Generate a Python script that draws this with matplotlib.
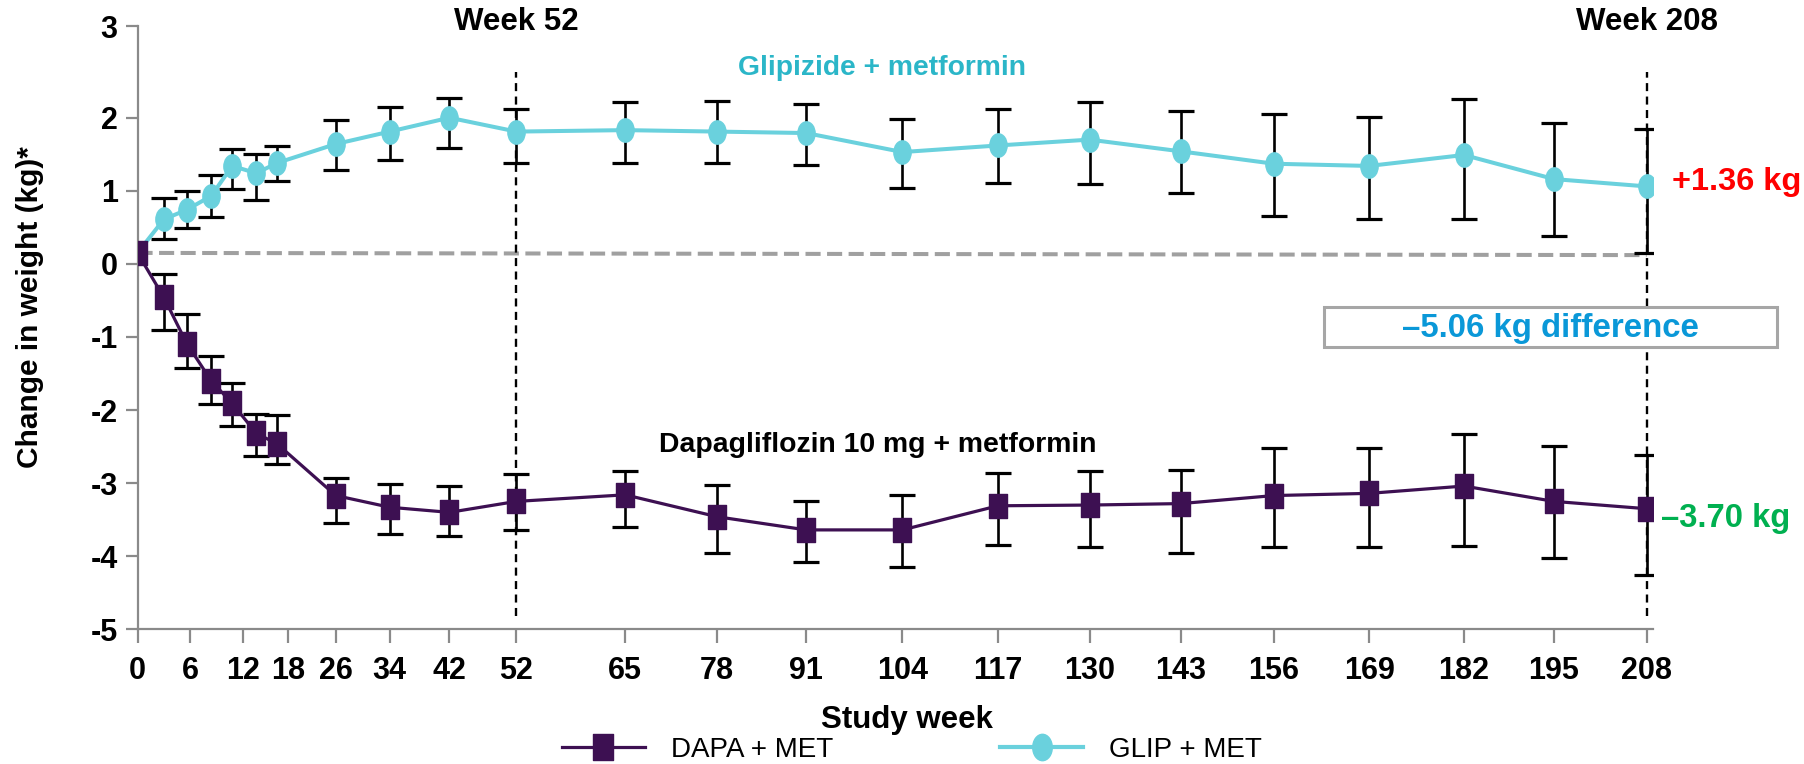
import numpy as np
import matplotlib
matplotlib.use("Agg")
import matplotlib.pyplot as plt
from matplotlib.path import Path
from matplotlib.patches import Rectangle
from matplotlib.lines import Line2D
from matplotlib.transforms import blended_transform_factory

plt.rcParams['font.family'] = ['Liberation Sans', 'DejaVu Sans']
plt.rcParams['axes.unicode_minus'] = False

# ---------------- data ----------------
weeks = [0, 3, 5.6, 8.4, 10.8, 13.8, 16.5, 26, 34, 42, 52, 65, 78, 91, 104,
         117, 130, 143, 156, 169, 182, 195, 208]

glip_mean = [0.15, 0.61, 0.74, 0.93, 1.34, 1.24, 1.38, 1.64, 1.81, 2.00, 1.81, 1.83,
             1.81, 1.79, 1.53, 1.62, 1.70, 1.54, 1.37, 1.34, 1.49, 1.16, 1.06]
glip_hi = [np.nan, 0.90, 1.00, 1.22, 1.57, 1.50, 1.61, 1.97, 2.12, 2.21, 2.10, 2.17,
           2.18, 2.15, 1.98, 2.10, 2.17, 2.07, 2.04, 2.01, 2.20, 1.93, 1.85]
glip_lo = [np.nan, 0.34, 0.49, 0.64, 1.03, 0.87, 1.13, 1.28, 1.42, 1.59, 1.38, 1.38,
           1.38, 1.35, 1.04, 1.11, 1.09, 0.97, 0.65, 0.62, 0.61, 0.38, 0.15]

dapa_mean = [0.15, -0.46, -1.09, -1.60, -1.91, -2.32, -2.46, -3.17, -3.33, -3.40, -3.25,
             -3.16, -3.46, -3.64, -3.64, -3.31, -3.30, -3.28, -3.17, -3.14, -3.04, -3.25, -3.35]
dapa_hi = [np.nan, -0.14, -0.68, -1.26, -1.63, -2.05, -2.07, -2.93, -3.01, -3.04, -2.87,
           -2.83, -3.03, -3.24, -3.16, -2.86, -2.83, -2.82, -2.52, -2.52, -2.33, -2.49, -2.62]
dapa_lo = [np.nan, -0.90, -1.43, -1.92, -2.22, -2.63, -2.74, -3.54, -3.70, -3.73, -3.64,
           -3.60, -3.96, -4.08, -4.15, -3.85, -3.87, -3.95, -3.87, -3.87, -3.86, -4.03, -4.26]

baseline_weeks = [0, 208]
baseline_vals = [0.15, 0.12]

x_ticks = [0, 6, 12, 18, 26, 34, 42, 52, 65, 78, 91, 104, 117, 130, 143, 156, 169, 182, 195, 208]
y_ticks = [-5, -4, -3, -2, -1, 0, 1, 2, 3]
marker_weeks = [52, 208]
marker_labels = ["Week 52", "Week 208"]

# ------------- irregular printed axis (layout of the original slide) -------------
xa_w = np.array([-10] + x_ticks + [221], dtype=float)
xa_p = np.array([49.5, 137.5, 190.3, 242.7, 288.3, 335.8, 389.7, 449.4, 516.4, 625.2,
                 717.2, 806.2, 902.4, 998.0, 1089.5, 1180.6, 1274.0, 1369.2, 1464.0,
                 1554.0, 1646.6, 1739.2])
ya_v = np.array([-6, -5, 2, 3, 4], dtype=float)
ya_p = np.array([-73.09, 0.0, 511.6, 603.3, 695.0])

def fx(v):
    return np.interp(np.asarray(v, dtype=float), xa_w, xa_p)

def fx_inv(p):
    return np.interp(np.asarray(p, dtype=float), xa_p, xa_w)

def fy(v):
    return np.interp(np.asarray(v, dtype=float), ya_v, ya_p)

def fy_inv(p):
    return np.interp(np.asarray(p, dtype=float), ya_p, ya_v)

W, H = 1804, 764
fig = plt.figure(figsize=(W / 100, H / 100), dpi=100)
left_px, right_px, top_px, bot_px = 137.5, 1653.0, 26.0, 629.3
ax = fig.add_axes([left_px / W, 1 - bot_px / H, (right_px - left_px) / W, (bot_px - top_px) / H])
ax.set_xscale('function', functions=(fx, fx_inv))
ax.set_yscale('function', functions=(fy, fy_inv))
ax.set_xlim(0, float(fx_inv(right_px)))
ax.set_ylim(-5, 3)

dapa_c = '#3d1052'
glip_c = '#6ad1dd'
ell = Path.unit_circle()
ell_marker = Path(ell.vertices * np.array([0.74, 1.0]), ell.codes)
rect_marker = Path([(-0.77, -1), (0.77, -1), (0.77, 1), (-0.77, 1), (-0.77, -1)], closed=True)

wk = np.array(weeks, dtype=float)
gm, gh, gl = map(np.array, (glip_mean, glip_hi, glip_lo))
dm, dh, dl = map(np.array, (dapa_mean, dapa_hi, dapa_lo))

# baseline
ax.plot(baseline_weeks, baseline_vals, color='#a0a0a0', lw=2.9, ls=(0, (3.75, 1.6)), zorder=2,
        solid_capstyle='butt', dash_capstyle='butt')

# vertical week markers
for w in marker_weeks:
    ax.axvline(w, ymin=0.022, ymax=0.924, color='black', lw=1.7, ls=(0, (3.4, 2.3)), zorder=2)

ax.errorbar(wk[1:], gm[1:], yerr=[gm[1:] - gl[1:], gh[1:] - gm[1:]], fmt='none',
            ecolor='black', elinewidth=1.9, capsize=9.6, capthick=2.3, zorder=3)
ax.errorbar(wk[1:], dm[1:], yerr=[dm[1:] - dl[1:], dh[1:] - dm[1:]], fmt='none',
            ecolor='black', elinewidth=1.9, capsize=9.6, capthick=2.3, zorder=3)

ax.plot(wk, gm, color=glip_c, lw=2.9, marker=ell_marker, ms=16.8, mfc=glip_c, mec=glip_c, zorder=4)
ax.plot(wk, dm, color=dapa_c, lw=2.3, marker=rect_marker, ms=17, mfc=dapa_c, mec=dapa_c, zorder=5)

# axes styling
for s in ['top', 'right']:
    ax.spines[s].set_visible(False)
for s in ['left', 'bottom']:
    ax.spines[s].set_color('#8a8a8a')
    ax.spines[s].set_linewidth(1.6)
ax.set_xticks(x_ticks)
ax.set_xticklabels([str(t) for t in x_ticks])
ax.set_yticks(y_ticks)
ax.set_yticklabels([str(t) for t in y_ticks])
ax.xaxis.set_minor_locator(matplotlib.ticker.NullLocator())
ax.yaxis.set_minor_locator(matplotlib.ticker.NullLocator())
ax.tick_params(axis='x', length=10, width=1.6, color='#8a8a8a', pad=9.0, labelsize=22)
ax.tick_params(axis='y', length=8.3, width=1.6, color='#8a8a8a', pad=6.0, labelsize=22)
for lab in ax.get_xticklabels() + ax.get_yticklabels():
    lab.set_fontweight('bold')

tr = blended_transform_factory(ax.transData, ax.transAxes)
for w, lab in zip(marker_weeks, marker_labels):
    ax.text(w, 1.0066, lab, transform=tr, ha='center', va='center', fontsize=22.5,
            fontweight='bold', clip_on=False)

ax.text(0.4913, 0.9304, "Glipizide + metformin", transform=ax.transAxes, ha='center',
        va='center', fontsize=20.3, fontweight='bold', color='#2bb6c8')
ax.text(0.4883, 0.3055, "Dapagliflozin 10 mg + metformin", transform=ax.transAxes, ha='center',
        va='center', fontsize=20.4, fontweight='bold', color='black')

fig.text(1672 / W, 1 - 182 / H, "+1.36 kg", ha='left', va='center', fontsize=23.4,
         fontweight='bold', color='#ff0000')
fig.text(1661 / W, 1 - 518 / H, "\u20133.70 kg", ha='left', va='center', fontsize=23.6,
         fontweight='bold', color='#00b050')

box = Rectangle((1324 / W, 1 - 347 / H), 453 / W, 40 / H, transform=fig.transFigure,
                fill=True, facecolor='white', edgecolor='#a6a6a6', lw=2.2, zorder=1)
fig.patches.append(box)
fig.text(1550 / W, 1 - 328 / H, "\u20135.06 kg difference", ha='center', va='center',
         fontsize=23.8, fontweight='bold', color='#0a98d8', zorder=2)

fig.text(30 / W, 1 - 307 / H, "Change in weight (kg)*", rotation=90, ha='center', va='center',
         fontsize=21.5, fontweight='bold')
fig.text(907 / W, 1 - 720 / H, "Study week", ha='center', va='center', fontsize=22.5,
         fontweight='bold')

handles = [Line2D([], [], color=dapa_c, lw=2.3, marker=rect_marker, ms=19, mfc=dapa_c, mec=dapa_c),
           Line2D([], [], color=glip_c, lw=3, marker=ell_marker, ms=19, mfc=glip_c, mec=glip_c)]
fig.legend(handles, ["DAPA + MET", "GLIP + MET"], loc='center', bbox_to_anchor=(912 / W, 1 - 750 / H),
           ncol=2, frameon=False, fontsize=20, handlelength=3.0, handletextpad=0.94,
           columnspacing=6.0, borderpad=0, borderaxespad=0)

fig.savefig("out.png", dpi=100)
